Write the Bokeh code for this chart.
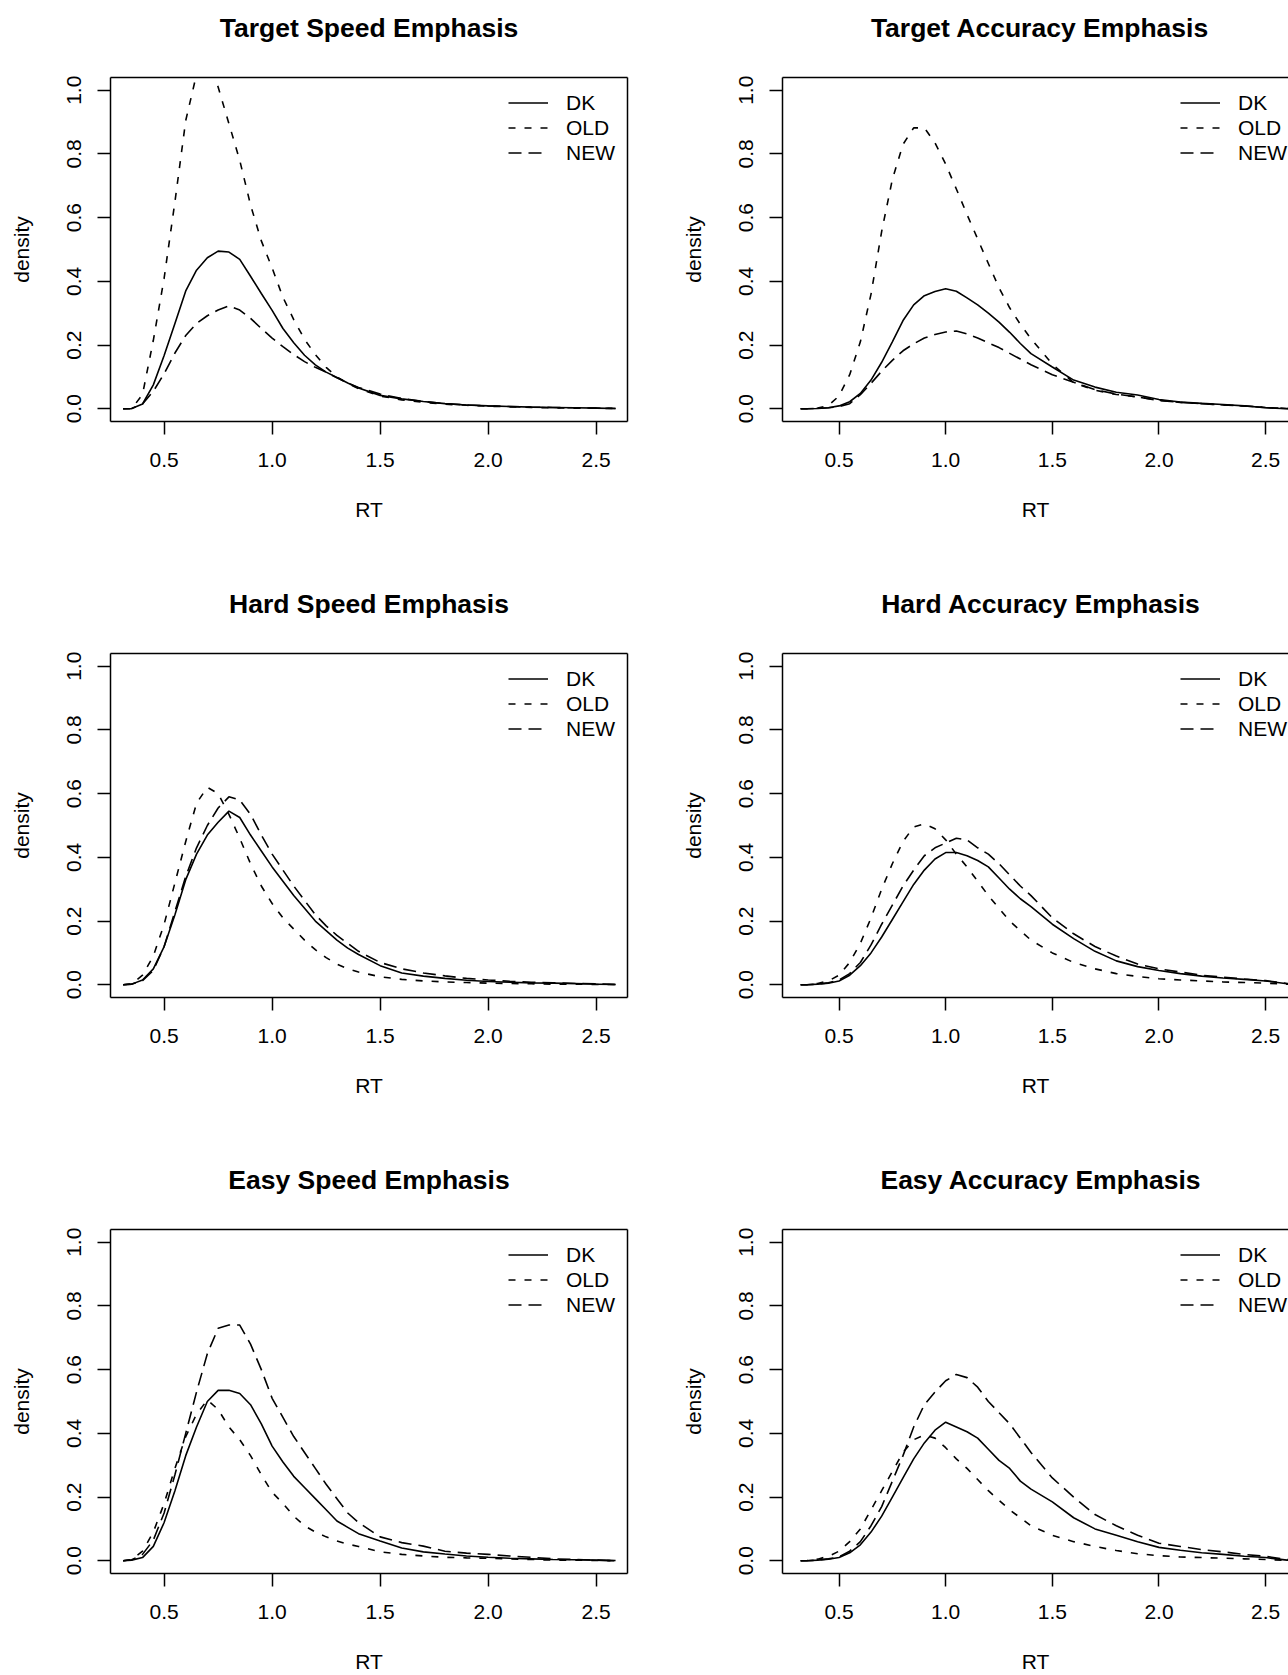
from bokeh.plotting import figure
from bokeh.layouts import column, row
from bokeh.models import Range1d, FixedTicker, Legend, LegendItem, LinearAxis
from bokeh.embed import file_html
from bokeh.resources import INLINE

# ---------------------------------------------------------------- data
# RT grids (seconds) on which the densities were evaluated
rt_left = [0.31, 0.35, 0.40, 0.45, 0.50, 0.55, 0.60, 0.65, 0.70, 0.75,
           0.80, 0.85, 0.90, 0.95, 1.00, 1.05, 1.10, 1.15, 1.20, 1.25,
           1.30, 1.35, 1.40, 1.50, 1.60, 1.70, 1.80, 1.90, 2.00, 2.10,
           2.20, 2.30, 2.40, 2.50, 2.59]
rt_right = [0.32, 0.35, 0.40, 0.45, 0.50, 0.55, 0.60, 0.65, 0.70, 0.75,
            0.80, 0.85, 0.90, 0.95, 1.00, 1.05, 1.10, 1.15, 1.20, 1.25,
            1.30, 1.35, 1.40, 1.50, 1.60, 1.70, 1.80, 1.90, 2.00, 2.10,
            2.20, 2.30, 2.40, 2.50, 2.60, 2.65]

# Target, speed emphasis
target_speed_dk = [0.0, 0.001, 0.015, 0.075, 0.167, 0.268, 0.37, 0.435, 0.474, 0.495,
                   0.492, 0.469, 0.416, 0.362, 0.309, 0.252, 0.207, 0.168, 0.138, 0.115,
                   0.098, 0.081, 0.065, 0.042, 0.031, 0.023, 0.016, 0.012, 0.009, 0.007,
                   0.005, 0.004, 0.003, 0.002, 0.001]
target_speed_old = [0.0, 0.0, 0.045, 0.215, 0.41, 0.65, 0.905, 1.05, 1.10, 1.01,
                    0.895, 0.78, 0.64, 0.527, 0.442, 0.35, 0.28, 0.218, 0.17, 0.13,
                    0.10, 0.08, 0.063, 0.04, 0.028, 0.02, 0.014, 0.011, 0.008, 0.006,
                    0.004, 0.003, 0.002, 0.0015, 0.001]
target_speed_new = [0.0, 0.001, 0.015, 0.055, 0.11, 0.175, 0.23, 0.268, 0.292, 0.31,
                    0.323, 0.31, 0.284, 0.252, 0.222, 0.195, 0.17, 0.148, 0.13, 0.115,
                    0.097, 0.081, 0.067, 0.046, 0.032, 0.023, 0.016, 0.012, 0.009, 0.007,
                    0.005, 0.004, 0.003, 0.002, 0.001]

# Target, accuracy emphasis
target_acc_dk = [0.0, 0.0, 0.001, 0.003, 0.009, 0.022, 0.048, 0.09, 0.146, 0.21,
                 0.277, 0.326, 0.355, 0.368, 0.377, 0.369, 0.348, 0.326, 0.30, 0.272,
                 0.24, 0.205, 0.173, 0.131, 0.09, 0.068, 0.052, 0.043, 0.029, 0.021,
                 0.017, 0.0135, 0.009, 0.003, 0.0, 0.0]
target_acc_old = [0.0, 0.0, 0.002, 0.01, 0.04, 0.107, 0.21, 0.36, 0.557, 0.72,
                  0.83, 0.882, 0.882, 0.835, 0.768, 0.69, 0.61, 0.533, 0.456, 0.38,
                  0.317, 0.265, 0.22, 0.14, 0.082, 0.058, 0.045, 0.037, 0.027, 0.02,
                  0.016, 0.012, 0.009, 0.004, 0.001, 0.0]
target_acc_new = [0.0, 0.0, 0.001, 0.003, 0.007, 0.016, 0.044, 0.08, 0.118, 0.152,
                  0.182, 0.204, 0.222, 0.233, 0.241, 0.244, 0.235, 0.222, 0.207, 0.192,
                  0.174, 0.156, 0.138, 0.107, 0.083, 0.06, 0.046, 0.037, 0.026, 0.02,
                  0.016, 0.012, 0.009, 0.004, 0.001, 0.0]

# Hard, speed emphasis
hard_speed_dk = [0.0, 0.002, 0.015, 0.05, 0.12, 0.22, 0.33, 0.41, 0.47, 0.51,
                 0.545, 0.525, 0.47, 0.42, 0.37, 0.325, 0.28, 0.24, 0.2, 0.17,
                 0.14, 0.115, 0.095, 0.06, 0.037, 0.027, 0.02, 0.014, 0.01, 0.008,
                 0.006, 0.005, 0.004, 0.002, 0.001]
hard_speed_old = [0.0, 0.003, 0.03, 0.09, 0.19, 0.32, 0.45, 0.57, 0.62, 0.6,
                  0.535, 0.46, 0.38, 0.31, 0.255, 0.21, 0.175, 0.14, 0.11, 0.085,
                  0.065, 0.05, 0.04, 0.025, 0.017, 0.012, 0.009, 0.007, 0.005, 0.004,
                  0.003, 0.002, 0.002, 0.001, 0.001]
hard_speed_new = [0.0, 0.002, 0.013, 0.045, 0.12, 0.23, 0.34, 0.43, 0.5, 0.555,
                  0.59, 0.58, 0.535, 0.47, 0.41, 0.36, 0.31, 0.265, 0.22, 0.185,
                  0.155, 0.13, 0.105, 0.07, 0.05, 0.037, 0.028, 0.02, 0.015, 0.011,
                  0.008, 0.006, 0.004, 0.003, 0.001]

# Hard, accuracy emphasis
hard_acc_dk = [0.0, 0.0, 0.002, 0.005, 0.012, 0.03, 0.06, 0.1, 0.15, 0.205,
               0.26, 0.315, 0.36, 0.395, 0.415, 0.415, 0.405, 0.39, 0.37, 0.335,
               0.3, 0.27, 0.245, 0.19, 0.145, 0.105, 0.075, 0.057, 0.045, 0.035,
               0.027, 0.021, 0.017, 0.012, 0.003, 0.0]
hard_acc_old = [0.0, 0.0, 0.004, 0.012, 0.03, 0.07, 0.13, 0.21, 0.3, 0.38,
                0.45, 0.495, 0.505, 0.49, 0.455, 0.41, 0.37, 0.325, 0.28, 0.24,
                0.2, 0.17, 0.14, 0.1, 0.07, 0.05, 0.035, 0.026, 0.019, 0.015,
                0.012, 0.009, 0.007, 0.005, 0.002, 0.0]
hard_acc_new = [0.0, 0.0, 0.002, 0.006, 0.015, 0.035, 0.07, 0.125, 0.19, 0.25,
                0.31, 0.36, 0.405, 0.43, 0.445, 0.46, 0.455, 0.43, 0.41, 0.38,
                0.345, 0.31, 0.28, 0.21, 0.16, 0.12, 0.09, 0.065, 0.05, 0.04,
                0.03, 0.024, 0.018, 0.013, 0.004, 0.0]

# Easy, speed emphasis
easy_speed_dk = [0.0, 0.002, 0.01, 0.045, 0.12, 0.22, 0.33, 0.42, 0.5, 0.535,
                 0.535, 0.525, 0.49, 0.43, 0.36, 0.31, 0.265, 0.23, 0.195, 0.16,
                 0.125, 0.105, 0.085, 0.062, 0.04, 0.028, 0.021, 0.015, 0.011, 0.008,
                 0.006, 0.004, 0.003, 0.002, 0.001]
easy_speed_old = [0.0, 0.004, 0.03, 0.09, 0.18, 0.29, 0.39, 0.46, 0.505, 0.475,
                  0.42, 0.38, 0.33, 0.27, 0.215, 0.18, 0.14, 0.11, 0.09, 0.075,
                  0.062, 0.052, 0.045, 0.028, 0.02, 0.015, 0.011, 0.009, 0.008, 0.006,
                  0.004, 0.002, 0.002, 0.001, 0.0]
easy_speed_new = [0.0, 0.003, 0.02, 0.065, 0.15, 0.27, 0.4, 0.53, 0.65, 0.73,
                  0.74, 0.74, 0.68, 0.6, 0.51, 0.45, 0.39, 0.34, 0.29, 0.24,
                  0.195, 0.15, 0.12, 0.075, 0.057, 0.046, 0.03, 0.024, 0.02, 0.015,
                  0.011, 0.006, 0.004, 0.002, 0.0]

# Easy, accuracy emphasis
easy_acc_dk = [0.0, 0.0, 0.002, 0.005, 0.01, 0.025, 0.05, 0.09, 0.14, 0.2,
               0.26, 0.32, 0.37, 0.41, 0.435, 0.42, 0.405, 0.385, 0.35, 0.315,
               0.29, 0.25, 0.225, 0.185, 0.135, 0.1, 0.08, 0.06, 0.042, 0.033,
               0.025, 0.02, 0.014, 0.01, 0.002, 0.0]
easy_acc_old = [0.0, 0.001, 0.005, 0.014, 0.03, 0.06, 0.1, 0.16, 0.22, 0.28,
                0.34, 0.38, 0.395, 0.385, 0.355, 0.32, 0.29, 0.255, 0.22, 0.19,
                0.16, 0.135, 0.11, 0.08, 0.06, 0.045, 0.032, 0.022, 0.016, 0.012,
                0.01, 0.008, 0.006, 0.004, 0.001, 0.0]
easy_acc_new = [0.0, 0.0, 0.002, 0.006, 0.012, 0.03, 0.06, 0.11, 0.17, 0.25,
                0.33, 0.42, 0.49, 0.53, 0.565, 0.585, 0.575, 0.545, 0.5, 0.465,
                0.43, 0.385, 0.34, 0.26, 0.2, 0.145, 0.11, 0.08, 0.055, 0.045,
                0.035, 0.028, 0.02, 0.014, 0.004, 0.0]

x_ticks = [0.5, 1.0, 1.5, 2.0, 2.5]
x_tick_labels = ["0.5", "1.0", "1.5", "2.0", "2.5"]
y_ticks = [0.0, 0.2, 0.4, 0.6, 0.8, 1.0]
y_tick_labels = ["0.0", "0.2", "0.4", "0.6", "0.8", "1.0"]
series_names = ["DK", "OLD", "NEW"]

panels = [
    ("Target Speed Emphasis", "left", rt_left, target_speed_dk, target_speed_old, target_speed_new),
    ("Target Accuracy Emphasis", "right", rt_right, target_acc_dk, target_acc_old, target_acc_new),
    ("Hard Speed Emphasis", "left", rt_left, hard_speed_dk, hard_speed_old, hard_speed_new),
    ("Hard Accuracy Emphasis", "right", rt_right, hard_acc_dk, hard_acc_old, hard_acc_new),
    ("Easy Speed Emphasis", "left", rt_left, easy_speed_dk, easy_speed_old, easy_speed_new),
    ("Easy Accuracy Emphasis", "right", rt_right, easy_acc_dk, easy_acc_old, easy_acc_new),
]

# ---------------------------------------------------------------- style
FONT = "Liberation Sans"
FS = "21px"
TITLE_PX = 26.5
LW = 1.5
CURVE_LW = 1.6
DASHES = ["solid", "7 9", "13 7"]

FRAME_TOP = 77
FRAME_H = 344
Y_LO, Y_HI = -0.04, 1.04
FULL_FRAME_W = 517
TITLE_GAP = 21   # extra room between the box and its title

# horizontal geometry per column: figure width, left border, visible frame width, x range
COLS = {
    "left": dict(width=644, border_left=110, frame_w=517, x0=0.2517, ppx=216.0),
    "right": dict(width=644, border_left=138, frame_w=506, x0=0.235, ppx=213.3),
}

# advance widths (1/1000 em) of the bold sans face, used to centre the
# titles of the right-hand panels over their full (partly off-page) box
BOLD_W = {" ": 278, "A": 722, "E": 667, "H": 722, "S": 667, "T": 611,
          "a": 556, "c": 556, "d": 611, "e": 556, "g": 611, "h": 611,
          "i": 278, "m": 889, "p": 611, "r": 389, "s": 556, "t": 333,
          "u": 611, "y": 556}


def title_width(text):
    return sum(BOLD_W.get(ch, 556) for ch in text) * TITLE_PX / 1000.0


def plain_axis(room=None):
    # bare axis used only as a box edge; `room` reserves empty space beyond it
    ax = LinearAxis(ticker=FixedTicker(ticks=[]), major_tick_out=0, major_tick_in=0,
                    minor_tick_out=0, minor_tick_in=0, major_label_standoff=0,
                    major_label_text_font_size="0px",
                    axis_line_color="black", axis_line_width=LW)
    if room:
        ax.axis_label = " "
        ax.axis_label_text_font_size = "1px"
        ax.axis_label_standoff = room
    return ax


def make_panel(title, side, rt, dk, old, new, height):
    c = COLS[side]
    x1 = c["x0"] + c["frame_w"] / c["ppx"]
    p = figure(width=c["width"], height=height,
               x_range=Range1d(c["x0"], x1), y_range=Range1d(Y_LO, Y_HI),
               output_backend="svg", toolbar_location=None,
               min_border_left=c["border_left"],
               min_border_right=c["width"] - c["border_left"] - c["frame_w"],
               min_border_top=FRAME_TOP,
               min_border_bottom=height - FRAME_TOP - FRAME_H)
    p.grid.visible = False
    p.outline_line_color = None
    p.background_fill_color = "white"
    p.border_fill_color = "white"

    xa = p.below[0]
    ya = p.left[0]
    for ax, ticks, labels in ((xa, x_ticks, x_tick_labels),
                              (ya, y_ticks, y_tick_labels)):
        ax.ticker = FixedTicker(ticks=ticks)
        ax.major_label_overrides = {t: l for t, l in zip(ticks, labels)}
        ax.minor_tick_line_color = None
        ax.major_tick_in = 0
        ax.major_tick_out = 13
        ax.major_tick_line_color = "black"
        ax.major_tick_line_width = LW
        ax.axis_line_color = "black"
        ax.axis_line_width = LW
        ax.major_label_text_font = FONT
        ax.major_label_text_font_size = FS
        ax.major_label_text_color = "black"
        ax.axis_label_text_font = FONT
        ax.axis_label_text_font_size = FS
        ax.axis_label_text_font_style = "normal"
        ax.axis_label_text_color = "black"

    xa.axis_label = "RT"
    xa.major_label_standoff = 18
    xa.axis_label_standoff = 28
    ya.axis_label = "density"
    ya.major_label_orientation = "parallel"
    ya.major_label_standoff = 16
    ya.axis_label_standoff = 32

    # box: top edge always, right edge only where it is on the page
    p.add_layout(plain_axis(TITLE_GAP), "above")
    if side == "left":
        p.add_layout(plain_axis(), "right")

    renderers = []
    for ys, dash in zip((dk, old, new), DASHES):
        r = p.line(rt, ys, line_color="black", line_width=CURVE_LW, line_dash=dash)
        renderers.append(r)

    legend = Legend(items=[LegendItem(label=n, renderers=[r])
                           for n, r in zip(series_names, renderers)],
                    location=(398, FRAME_H - 13 - 75))
    legend.border_line_color = None
    legend.background_fill_alpha = 0
    legend.padding = 0
    legend.margin = 0
    legend.spacing = 0
    legend.glyph_width = 40
    legend.glyph_height = 25
    legend.label_height = 25
    legend.label_standoff = 18
    legend.label_text_font = FONT
    legend.label_text_font_size = FS
    legend.label_text_color = "black"
    p.add_layout(legend)

    t = p.title
    t.text = title
    t.text_font = FONT
    t.text_font_size = f"{TITLE_PX}px"
    t.text_font_style = "bold"
    t.text_color = "black"
    t.standoff = 20
    if side == "left":
        t.align = "center"
    else:
        t.align = "left"
        t.offset = (FULL_FRAME_W - title_width(title)) / 2
    return p


heights = [576, 576, 523]
rows = []
for i in range(3):
    left = make_panel(*panels[2 * i], height=heights[i])
    right = make_panel(*panels[2 * i + 1], height=heights[i])
    rows.append(row(left, right, spacing=0))
layout = column(*rows, spacing=0)

open("out.html", "w").write(file_html(layout, INLINE))
